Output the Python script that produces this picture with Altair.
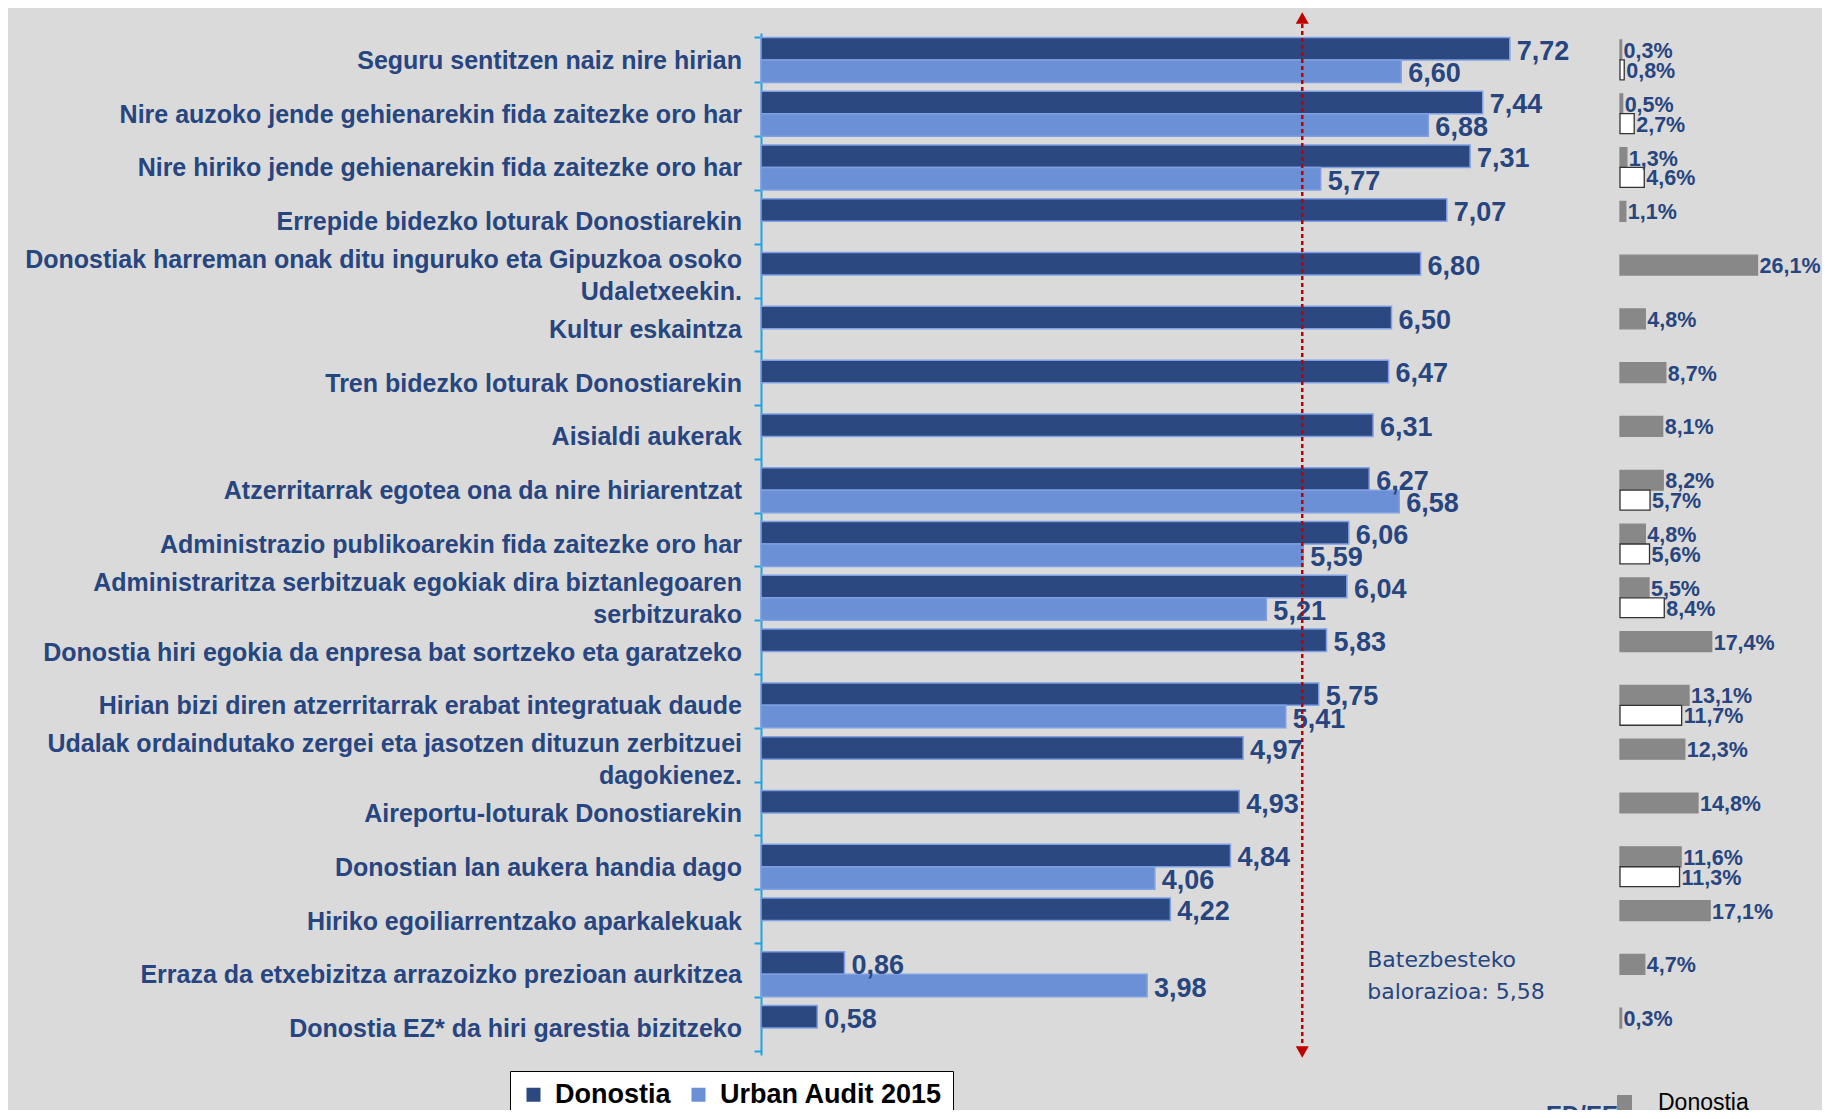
import altair as alt
import pandas as pd

# ---------------- data ----------------
categories = [
    "Seguru sentitzen naiz nire hirian",
    "Nire auzoko jende gehienarekin fida zaitezke oro har",
    "Nire hiriko jende gehienarekin fida zaitezke oro har",
    "Errepide bidezko loturak Donostiarekin",
    "Donostiak harreman onak ditu inguruko eta Gipuzkoa osoko|Udaletxeekin.",
    "Kultur eskaintza",
    "Tren bidezko loturak Donostiarekin",
    "Aisialdi  aukerak",
    "Atzerritarrak egotea ona da nire hiriarentzat",
    "Administrazio publikoarekin fida zaitezke oro har",
    "Administraritza serbitzuak egokiak dira biztanlegoaren|serbitzurako",
    "Donostia hiri egokia da enpresa bat sortzeko eta garatzeko",
    "Hirian bizi diren atzerritarrak erabat integratuak daude",
    "Udalak ordaindutako zergei eta jasotzen dituzun zerbitzuei|dagokienez.",
    "Aireportu-loturak Donostiarekin",
    "Donostian lan aukera handia dago",
    "Hiriko egoiliarrentzako aparkalekuak",
    "Erraza da etxebizitza arrazoizko prezioan aurkitzea",
    "Donostia EZ* da hiri garestia bizitzeko",
]
series = ["Donostia", "Urban Audit 2015"]
donostia = [7.72, 7.44, 7.31, 7.07, 6.80, 6.50, 6.47, 6.31, 6.27, 6.06,
            6.04, 5.83, 5.75, 4.97, 4.93, 4.84, 4.22, 0.86, 0.58]
urban_audit = [6.60, 6.88, 5.77, None, None, None, None, None, 6.58, 5.59,
               5.21, None, 5.41, None, None, 4.06, None, 3.98, None]
ed_donostia = [0.3, 0.5, 1.3, 1.1, 26.1, 4.8, 8.7, 8.1, 8.2, 4.8,
               5.5, 17.4, 13.1, 12.3, 14.8, 11.6, 17.1, 4.7, 0.3]
ed_urban = [0.8, 2.7, 4.6, None, None, None, None, None, 5.7, 5.6,
            8.4, None, 11.7, None, None, 11.3, None, None, None]
average = 5.58
avg_label_lines = ["Batezbesteko", "balorazioa: " + f"{average:.2f}".replace(".", ",")]
ed_title = "ED/EE"


def fmt(v, d):
    return f"{v:.{d}f}".replace(".", ",")


main_rows = []
right_rows = []
for i, c in enumerate(categories):
    for s, vals in zip(series, [donostia, urban_audit]):
        v = vals[i]
        if v is not None:
            main_rows.append({"cat": c, "series": s, "value": v, "label": fmt(v, 2)})
    for s, vals in zip(series, [ed_donostia, ed_urban]):
        v = vals[i]
        if v is not None:
            right_rows.append({"cat": c, "series": s, "pct": v, "label": fmt(v, 1) + "%"})
df_main = pd.DataFrame(main_rows)
df_right = pd.DataFrame(right_rows)
df_avg = pd.DataFrame({"avg": [average], "cat": [categories[17]]})
df_cats = pd.DataFrame({"cat": categories})
df_ed = pd.DataFrame({"pct": [0.0], "title": [ed_title]})

# ---------------- layout / style ----------------
W, H = 1061, 1022
PX_PER_UNIT = 97.0
XMAX = W / PX_PER_UNIT
RIGHT_ORIGIN = 859
PX_PER_PCT = 5.27
RMIN = -RIGHT_ORIGIN / PX_PER_PCT
RMAX = (W - RIGHT_ORIGIN) / PX_PER_PCT

NAVY = "#27457F"
DARK = "#2B4880"
LIGHT = "#6B90D6"
AXIS_BLUE = "#1CA3E3"
RED = "#C00000"
SANS = "Liberation Sans"

y_main = alt.Y(
    "cat:N",
    sort=categories,
    scale=alt.Scale(domain=categories, paddingInner=0.164, paddingOuter=0.082),
    axis=alt.Axis(
        title=None,
        labels=False,
        tickBand="extent",
        tickSize=7,
        tickWidth=2,
        tickColor=AXIS_BLUE,
        domainColor=AXIS_BLUE,
        domainWidth=2,
        grid=False,
    ),
)
yoff_main = alt.YOffset("series:N", scale=alt.Scale(domain=series, paddingInner=0, paddingOuter=0))
x_main = alt.X("value:Q", scale=alt.Scale(domain=[0, XMAX], nice=False, zero=True), axis=None)

bars = alt.Chart(df_main).mark_bar(stroke="#7FA0E2", strokeWidth=1.5).encode(
    y=y_main,
    yOffset=yoff_main,
    x=x_main,
    color=alt.Color(
        "series:N",
        scale=alt.Scale(domain=series, range=[DARK, LIGHT]),
        legend=alt.Legend(
            title=None,
            orient="none",
            legendX=-251,
            legendY=1038,
            direction="horizontal",
            symbolType="square",
            symbolSize=196,
            symbolStrokeWidth=0,
            labelFont=SANS,
            labelFontSize=27,
            labelFontWeight="bold",
            labelColor="black",
            labelLimit=400,
            labelOffset=8,
            columnPadding=14,
            padding=10,
            fillColor="white",
            strokeColor="black",
        ),
    ),
)

# category labels (drawn as text so that two-line labels stay centred on their band)
cat_base = alt.Chart(df_cats).transform_calculate(lines="split(datum.cat, '|')")
cat_one = cat_base.transform_filter("indexof(datum.cat, '|') < 0").mark_text(
    align="right", baseline="middle", font=SANS, fontSize=25, fontWeight="bold", color=NAVY, dy=1,
).encode(y=alt.Y("cat:N", sort=categories), x=alt.value(-19), text="lines:N")
cat_two = cat_base.transform_filter("indexof(datum.cat, '|') >= 0").mark_text(
    align="right", baseline="middle", font=SANS, fontSize=25, fontWeight="bold", color=NAVY,
    lineHeight=32, dy=-15,
).encode(y=alt.Y("cat:N", sort=categories), x=alt.value(-19), text="lines:N")

value_labels = alt.Chart(df_main).mark_text(
    align="left", baseline="middle", dx=7, dy=3, font=SANS, fontSize=27,
    fontWeight="bold", color=NAVY,
).encode(y=alt.Y("cat:N", sort=categories), yOffset=alt.YOffset("series:N"), x="value:Q", text="label:N")

avg_rule = alt.Chart(df_avg).mark_rule(color=RED, strokeWidth=2.5, strokeDash=[4, 3]).encode(
    x=alt.X("avg:Q"), y=alt.value(-9), y2=alt.value(H - 10)
)
arrow_up = alt.Chart(df_avg).mark_point(shape="triangle-up", filled=True, size=170, color=RED, opacity=1).encode(
    x="avg:Q", y=alt.value(-15)
)
arrow_down = alt.Chart(df_avg).mark_point(shape="triangle-down", filled=True, size=170, color=RED, opacity=1).encode(
    x="avg:Q", y=alt.value(H - 3)
)
avg_text = alt.Chart(df_avg).mark_text(
    align="left", baseline="middle", dx=65, dy=-14, font="DejaVu Sans", fontSize=22,
    color=NAVY, lineHeight=32, text=avg_label_lines,
).encode(x="avg:Q", y=alt.Y("cat:N", sort=categories))

main_layer = alt.layer(bars, value_labels, cat_one, cat_two, avg_rule, arrow_up, arrow_down, avg_text)

# ---------------- right panel (ED/EE) ----------------
y_right = alt.Y(
    "cat:N", sort=categories,
    scale=alt.Scale(domain=categories, paddingInner=0.26, paddingOuter=0.13),
    axis=None,
)
yoff_right = alt.YOffset("series:N", scale=alt.Scale(domain=series, paddingInner=0, paddingOuter=0))
x_right = alt.X("pct:Q", scale=alt.Scale(domain=[RMIN, RMAX], nice=False, zero=False), axis=None)

right_bars = alt.Chart(df_right).mark_bar(strokeWidth=1.3).encode(
    y=y_right,
    yOffset=yoff_right,
    x=x_right,
    x2=alt.datum(0),
    color=alt.Color(
        "series:N",
        scale=alt.Scale(domain=series, range=["#888888", "#FFFFFF"]),
        legend=alt.Legend(
            title=None,
            values=["Donostia"],
            orient="none",
            legendX=852,
            legendY=1058,
            symbolType="square",
            symbolSize=225,
            symbolStrokeWidth=0,
            symbolFillColor="#6E6E6E",
            labelFont=SANS,
            labelFontSize=23,
            labelColor="black",
            labelOffset=22,
            padding=0,
        ),
    ),
    stroke=alt.Stroke("series:N", scale=alt.Scale(domain=series, range=["#888888", "#333333"]), legend=None),
)
right_labels = alt.Chart(df_right).mark_text(
    align="left", baseline="middle", dx=2, dy=2, font=SANS, fontSize=21.5,
    fontWeight="bold", color=NAVY,
).encode(y=alt.Y("cat:N", sort=categories), yOffset=alt.YOffset("series:N"), x="pct:Q", text="label:N")
ed_text = alt.Chart(df_ed).mark_text(
    align="right", baseline="top", dx=-2, font=SANS, fontSize=24, fontWeight="bold", color=NAVY,
).encode(x="pct:Q", y=alt.value(H + 49), text="title:N")

right_layer = alt.layer(right_bars, right_labels, ed_text)

chart = (
    alt.layer(main_layer, right_layer)
    .resolve_scale(x="independent", y="independent", yOffset="independent",
                   color="independent", stroke="independent")
    .properties(
        width=W,
        height=H,
        autosize=alt.AutoSizeParams(type="none"),
        padding={"left": 753, "top": 25, "right": 0, "bottom": 55},
        background="#DADADA",
    )
    .configure_view(stroke=None)
)

chart.save("out.html", embed_options={"renderer": "svg", "actions": False})
